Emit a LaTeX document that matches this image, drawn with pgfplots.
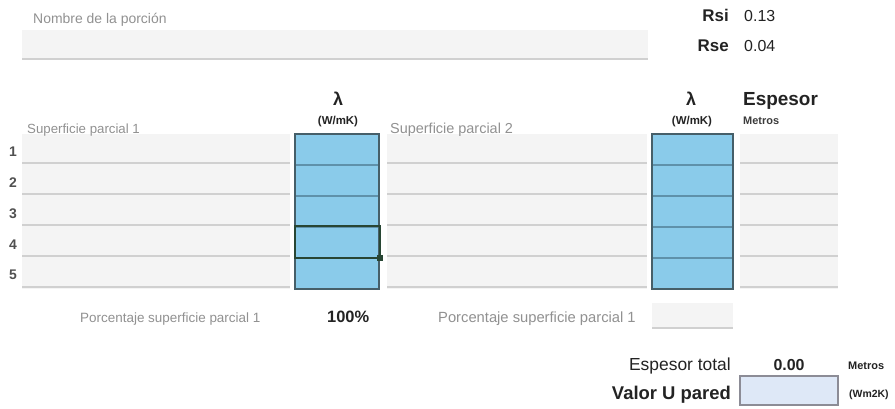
\documentclass[border=0pt]{standalone}
\usepackage{pgfplots}
\pgfplotsset{compat=1.18}
\usepackage{fontspec}
\setmainfont{Liberation Sans}
\definecolor{cellblue}{RGB}{138,203,234}
\definecolor{blueline}{RGB}{95,145,170}
\definecolor{blueborder}{RGB}{70,95,105}
\definecolor{cellgray}{RGB}{244,244,244}
\definecolor{grayline}{RGB}{208,208,208}
\definecolor{labelgray}{RGB}{145,145,145}
\definecolor{darktext}{RGB}{35,35,35}
\definecolor{numgray}{RGB}{80,80,80}
\definecolor{selgreen}{RGB}{40,70,52}
\definecolor{ubox}{RGB}{222,232,247}
\definecolor{uborder}{RGB}{140,140,150}
\newcommand{\rect}[5]{\addplot[#5] coordinates {(#1,#2) (#3,#2) (#3,#4) (#1,#4)} -- cycle;}
\newcommand{\hseg}[4]{\addplot[#4] coordinates {(#1,#3) (#2,#3)};}
\newcommand{\fs}[1]{\fontsize{#1}{#1}\selectfont}
\newcommand{\grayrow}[3]{%
  \rect{22}{#1}{290}{#2}{fill=cellgray, draw=none}
  \rect{387}{#1}{647}{#2}{fill=cellgray, draw=none}
  \rect{740}{#1}{838}{#2}{fill=cellgray, draw=none}
  \hseg{22}{290}{#3}{grayline, line width=1.5bp}
  \hseg{387}{647}{#3}{grayline, line width=1.5bp}
  \hseg{740}{838}{#3}{grayline, line width=1.5bp}}
\newcommand{\blueline}[1]{%
  \hseg{295}{379}{#1}{blueline, line width=1.2bp}
  \hseg{652}{733}{#1}{blueline, line width=1.2bp}}
\begin{document}
\begin{tikzpicture}
\begin{axis}[
  scale only axis, width=895bp, height=409bp,
  xmin=0, xmax=895, ymin=0, ymax=409, y dir=reverse,
  hide axis, clip=false,
]
% background
\rect{0}{0}{895}{409}{fill=white, draw=none}
% name box
\rect{22}{30}{648}{60}{fill=cellgray, draw=none}
\hseg{22}{648}{59}{grayline, line width=1.5bp}
% gray rows
\grayrow{134}{165}{163}
\grayrow{165}{196}{194}
\grayrow{196}{227}{225}
\grayrow{227}{258}{256}
\grayrow{258}{289}{287}
% blue columns
\rect{295}{134}{379}{289}{fill=cellblue, draw=none}
\rect{652}{134}{733}{289}{fill=cellblue, draw=none}
\blueline{165}
\blueline{196}
\blueline{227}
\blueline{258}
\rect{295}{134}{379}{289}{draw=blueborder, line width=1.3bp}
\rect{652}{134}{733}{289}{draw=blueborder, line width=1.3bp}
% selected cell
\rect{295}{226}{380}{258}{draw=selgreen, line width=2.6bp}
\rect{377}{255}{383}{261}{fill=selgreen, draw=none}
% porcentaje box
\rect{652}{303}{733}{329}{fill=cellgray, draw=none}
\hseg{652}{733}{328}{grayline, line width=1.5bp}
% valor U box
\rect{740}{376}{838}{405}{fill=ubox, draw=uborder, line width=1.2bp}

% texts
\node[anchor=base west, text=labelgray, font=\fs{14}, inner sep=0] at (axis cs:33,24) {Nombre de la porción};
\node[anchor=base east, text=darktext, font=\bfseries\fs{17}, inner sep=0] at (axis cs:729,22) {Rsi};
\node[anchor=base west, text=darktext, font=\fs{16}, inner sep=0] at (axis cs:744,22) {0.13};
\node[anchor=base east, text=darktext, font=\bfseries\fs{17}, inner sep=0] at (axis cs:729,51) {Rse};
\node[anchor=base west, text=darktext, font=\fs{16}, inner sep=0] at (axis cs:744,51) {0.04};

\node[anchor=base west, text=labelgray, font=\fs{13.3}, inner sep=0] at (axis cs:27,133) {Superficie parcial 1};
\node[anchor=base west, text=labelgray, font=\fs{14.5}, inner sep=0] at (axis cs:390,133) {Superficie parcial 2};
\node[anchor=base, text=darktext, font=\bfseries\fs{18}, inner sep=0] at (axis cs:338,105) {λ};
\node[anchor=base, text=darktext, font=\bfseries\fs{11.5}, inner sep=0] at (axis cs:338,124) {(W/mK)};
\node[anchor=base, text=darktext, font=\bfseries\fs{18}, inner sep=0] at (axis cs:691,105) {λ};
\node[anchor=base, text=darktext, font=\bfseries\fs{11.5}, inner sep=0] at (axis cs:692,124) {(W/mK)};
\node[anchor=base west, text=darktext, font=\bfseries\fs{19}, inner sep=0] at (axis cs:743,105) {Espesor};
\node[anchor=base west, text={rgb,255:red,60;green,60;blue,60}, font=\bfseries\fs{11}, inner sep=0] at (axis cs:743,124) {Metros};

\node[anchor=base, text=numgray, font=\bfseries\fs{14}, inner sep=0] at (axis cs:13,156) {1};
\node[anchor=base, text=numgray, font=\bfseries\fs{14}, inner sep=0] at (axis cs:13,187) {2};
\node[anchor=base, text=numgray, font=\bfseries\fs{14}, inner sep=0] at (axis cs:13,218) {3};
\node[anchor=base, text=numgray, font=\bfseries\fs{14}, inner sep=0] at (axis cs:13,249) {4};
\node[anchor=base, text=numgray, font=\bfseries\fs{14}, inner sep=0] at (axis cs:13,279) {5};

\node[anchor=base west, text=labelgray, font=\fs{13.5}, inner sep=0] at (axis cs:80,322) {Porcentaje superficie parcial 1};
\node[anchor=base west, text=darktext, font=\bfseries\fs{16.5}, inner sep=0] at (axis cs:327,322) {100\%};
\node[anchor=base west, text=labelgray, font=\fs{14.8}, inner sep=0] at (axis cs:438,322) {Porcentaje superficie parcial 1};

\node[anchor=base east, text=darktext, font=\fs{17.5}, inner sep=0] at (axis cs:731,370) {Espesor total};
\node[anchor=base, text=darktext, font=\bfseries\fs{16}, inner sep=0] at (axis cs:789,370) {0.00};
\node[anchor=base west, text=darktext, font=\bfseries\fs{11}, inner sep=0] at (axis cs:848,369) {Metros};
\node[anchor=base east, text=darktext, font=\bfseries\fs{18.5}, inner sep=0] at (axis cs:731,399) {Valor U pared};
\node[anchor=base west, text=darktext, font=\bfseries\fs{10.5}, inner sep=0] at (axis cs:849,397) {(Wm2K)};
\end{axis}
\end{tikzpicture}
\end{document}
